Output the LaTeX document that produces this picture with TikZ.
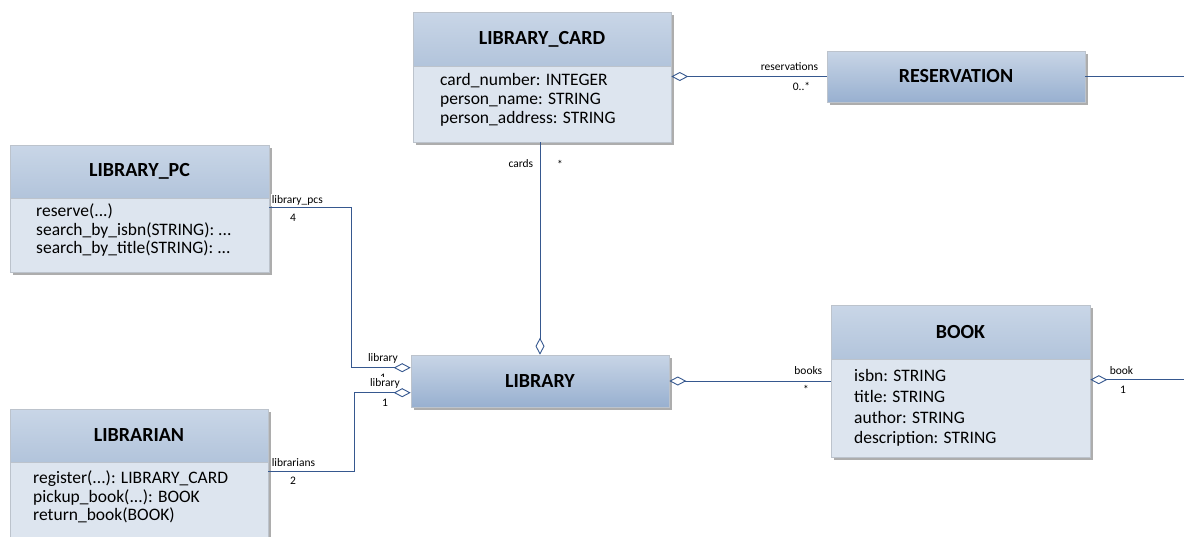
\documentclass[tikz,border=0pt]{standalone}
\usepackage{fontspec}
\setmainfont{Carlito}
\usetikzlibrary{arrows.meta,shadows,calc}

\definecolor{hdrtop}{HTML}{C9D6E7}
\definecolor{hdrbot}{HTML}{B2C4DB}
\definecolor{bodyfill}{HTML}{DDE5EF}
\definecolor{solotop}{HTML}{C8D5E6}
\definecolor{solobot}{HTML}{98B0D0}
\definecolor{boxline}{HTML}{BCC3CC}
\definecolor{wire}{HTML}{36588F}

\tikzset{
  x=1pt, y=-1pt,
  boxshadow/.style={general shadow={fill=black!32, shadow xshift=2.5pt, shadow yshift=-2.5pt}},
  hdr/.style={draw=boxline, line width=.6pt, shading=axis, top color=hdrtop, bottom color=hdrbot,
    boxshadow, inner sep=0pt, font=\fontsize{20}{24}\selectfont\bfseries},
  solo/.style={draw=boxline, line width=.6pt, shading=axis, top color=solotop, bottom color=solobot,
    boxshadow, inner sep=0pt, font=\fontsize{20}{24}\selectfont\bfseries},
  classbody/.style={draw=boxline, line width=.6pt, fill=bodyfill, boxshadow, inner sep=0pt},
  members/.style={anchor=north west, inner sep=0pt, align=left,
    font=\fontsize{17.5}{18.7}\selectfont},
  role/.style={inner sep=0.6pt, fill=white, font=\fontsize{11.5}{13}\selectfont},
  wireline/.style={draw=wire, line width=0.9pt},
  agg/.style={wireline, {Diamond[open, length=17pt, width=9pt, line width=0.9pt]}-},
  aggend/.style={wireline, -{Diamond[open, length=17pt, width=9pt, line width=0.9pt]}},
}

\begin{document}
\begin{tikzpicture}
\path[use as bounding box] (0,0) rectangle (1184,536);
\clip (0,0) rectangle (1184,536);

% ---- classes ----
\node[hdr, minimum width=258pt, minimum height=54pt] (card) at (542,39) {LIBRARY\_CARD};
\node[classbody, minimum width=258pt, minimum height=76pt] (cardbody) at (542,104) {};
\node[members] (cardattrs) at (440,73.5)
  {card\_number: INTEGER\\person\_name: STRING\\person\_address: STRING};

\node[solo, minimum width=258pt, minimum height=51pt] (res) at (956,76.5) {RESERVATION};

\node[hdr, minimum width=259pt, minimum height=53pt] (pc) at (139.5,171.5) {LIBRARY\_PC};
\node[classbody, minimum width=259pt, minimum height=74pt] (pcbody) at (139.5,235) {};
\node[members] (pcops) at (36,203.5)
  {reserve(...)\\search\_by\_isbn(STRING): ...\\search\_by\_title(STRING): ...};

\node[solo, minimum width=258pt, minimum height=52pt] (library) at (540,381) {LIBRARY};

\node[hdr, minimum width=258pt, minimum height=53pt] (ln) at (139,435.5) {LIBRARIAN};
\node[classbody, minimum width=258pt, minimum height=90pt] (lnbody) at (139,507) {};
\node[members] (lnops) at (33,470.5)
  {register(...): LIBRARY\_CARD\\pickup\_book(...): BOOK\\return\_book(BOOK)};

\node[hdr, minimum width=259pt, minimum height=54pt] (book) at (960.5,332) {BOOK};
\node[classbody, minimum width=259pt, minimum height=98pt] (bookbody) at (960.5,408) {};
\node[members, font=\fontsize{17.5}{20.7}\selectfont] (bookattrs) at (854,369.5)
  {isbn: STRING\\title: STRING\\author: STRING\\description: STRING};

% ---- role names and multiplicities ----
\node[role, anchor=east] (lres) at (819,67) {reservations};
\node[role, anchor=east] (mres) at (811,86) {0..*};
\node[role, anchor=east] (lcards) at (534,164) {cards};
\node[role] (mcards) at (560,164) {*};
\node[role, anchor=west] (lpcs) at (271,200) {library\_pcs};
\node[role] (mpcs) at (293,218) {4};
\node[role] (mpclib) at (383,378) {1};
\node[role] (lpclib) at (383,358) {library};
\node[role] (llnlib) at (385,383) {library};
\node[role] (mlnlib) at (385,403) {1};
\node[role, anchor=west] (llns) at (271,463) {librarians};
\node[role] (mlns) at (293,481) {2};
\node[role, anchor=east] (lbooks) at (823,371) {books};
\node[role] (mbooks) at (806,389) {*};
\node[role, anchor=west] (lbook) at (1109,371) {book};
\node[role] (mbook) at (1123,390) {1};

% ---- associations ----
\coordinate (resout) at (1190,76.5);
\coordinate (bookout) at (1190,380);
\coordinate (pcbend) at (351,0);
\coordinate (lnbend) at (354,0);
\coordinate (pcstart) at ($(pcbody.north east)+(0,10)$);
\coordinate (pcend) at ($(library.north west)+(0,13)$);
\coordinate (lnstart) at ($(lnbody.north east)+(0,10)$);
\coordinate (lnend) at ($(library.north west)+(0,38)$);
\coordinate (bookstart) at ($(bookbody.north east)+(0,21)$);

\draw[agg] (res.west -| cardbody.east) -- (res.west);
\draw[wireline] (res.east) -- (resout);
\draw[aggend] (library.north |- cardbody.south) -- (library.north);
\draw[aggend] (pcstart) -- (pcstart -| pcbend) -- (pcend -| pcbend) -- (pcend);
\draw[aggend] (lnstart) -- (lnstart -| lnbend) -- (lnend -| lnbend) -- (lnend);
\draw[agg] (library.east) -- (library.east -| bookbody.west);
\draw[agg] (bookstart) -- (bookstart -| bookout);
\end{tikzpicture}
\end{document}
